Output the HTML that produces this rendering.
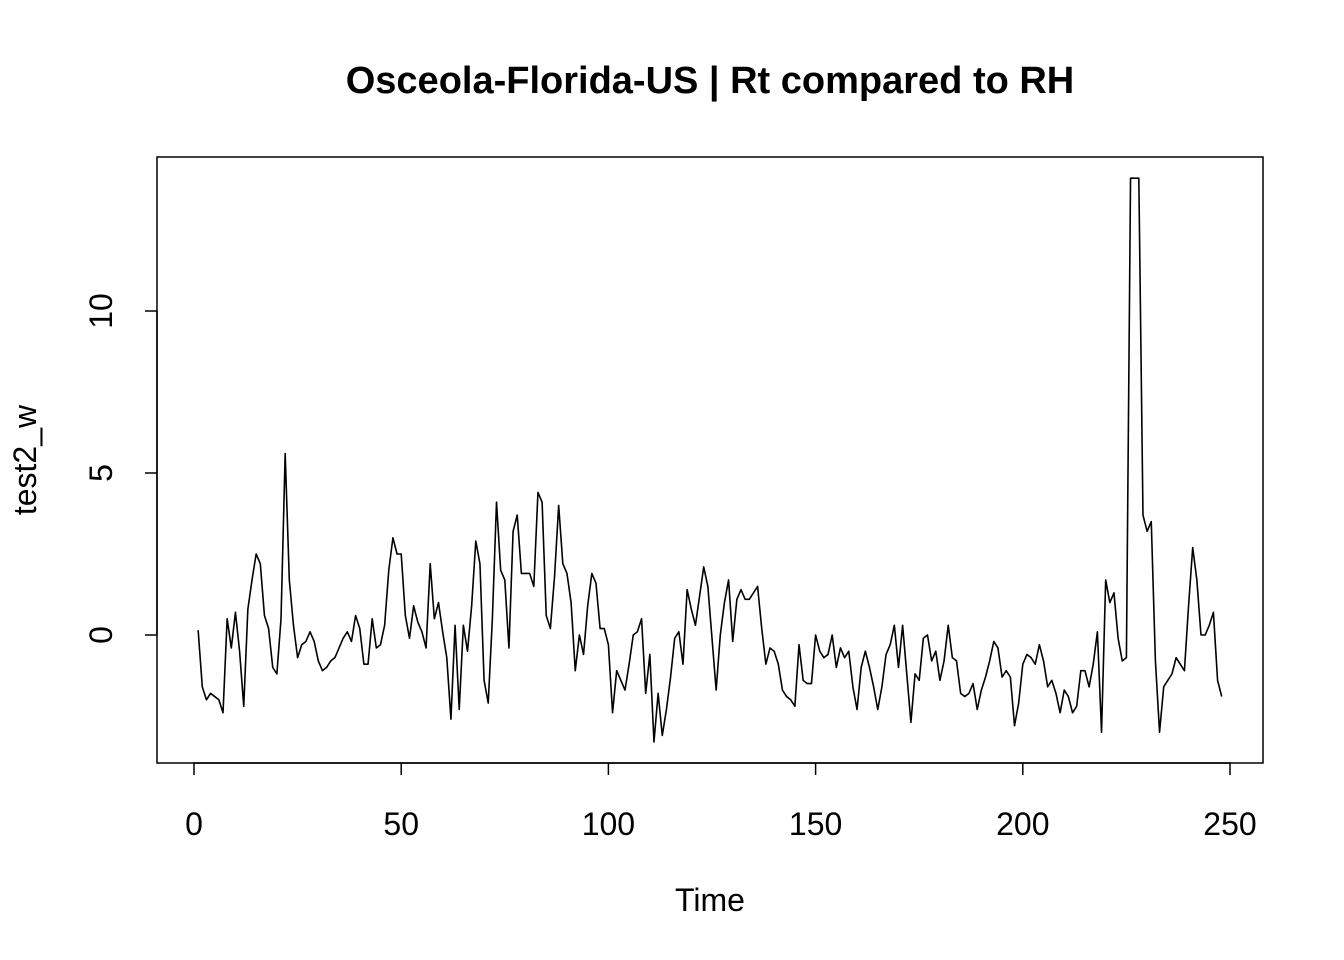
<!DOCTYPE html>
<html><head><meta charset="utf-8"><style>
body{margin:0;background:#fff;}
svg{display:block;font-family:"Liberation Sans",Arial,sans-serif;}
</style></head><body>
<svg id="chart" width="1344" height="960" viewBox="0 0 1344 960">
<rect width="1344" height="960" fill="#fff"/>
<text x="710" y="93" font-size="38" font-weight="bold" text-anchor="middle">Osceola-Florida-US | Rt compared to RH</text>
<rect x="157" y="157" width="1106" height="606" fill="none" stroke="#000" stroke-width="1.5"/>
<g id="xaxis"></g>
<g id="yaxis"></g>
<text x="710" y="911" font-size="32" text-anchor="middle">Time</text>
<text transform="translate(36,460) rotate(-90)" font-size="32" text-anchor="middle">test2_w</text>
<path id="series" fill="none" stroke="#000" stroke-width="1.6" stroke-linejoin="round"/>
</svg>
<script>
const values = [0.15,-1.6,-2.0,-1.8,-1.9,-2.0,-2.4,0.5,-0.4,0.7,-0.5,-2.2,0.8,1.7,2.5,2.2,0.6,0.2,-1.0,-1.2,0.5,5.6,1.7,0.3,-0.7,-0.3,-0.2,0.1,-0.2,-0.8,-1.1,-1.0,-0.8,-0.7,-0.4,-0.1,0.1,-0.2,0.6,0.2,-0.9,-0.9,0.5,-0.4,-0.3,0.3,2.0,3.0,2.5,2.5,0.6,-0.1,0.9,0.4,0.1,-0.4,2.2,0.5,1.0,0.1,-0.7,-2.6,0.3,-2.3,0.3,-0.5,0.9,2.9,2.2,-1.4,-2.1,0.5,4.1,2.0,1.7,-0.4,3.2,3.7,1.9,1.9,1.9,1.5,4.4,4.1,0.6,0.2,1.8,4.0,2.2,1.9,1.0,-1.1,0.0,-0.6,0.9,1.9,1.6,0.2,0.2,-0.3,-2.4,-1.1,-1.4,-1.7,-0.9,0.0,0.1,0.5,-1.8,-0.6,-3.3,-1.8,-3.1,-2.3,-1.3,-0.1,0.1,-0.9,1.4,0.8,0.3,1.2,2.1,1.5,-0.1,-1.7,0.0,1.0,1.7,-0.2,1.1,1.4,1.1,1.1,1.3,1.5,0.2,-0.9,-0.4,-0.5,-0.9,-1.7,-1.9,-2.0,-2.2,-0.3,-1.4,-1.5,-1.5,0.0,-0.5,-0.7,-0.6,0.0,-1.0,-0.4,-0.7,-0.5,-1.6,-2.3,-1.0,-0.5,-1.0,-1.6,-2.3,-1.6,-0.6,-0.3,0.3,-1.0,0.3,-1.2,-2.7,-1.2,-1.4,-0.1,0.0,-0.8,-0.5,-1.4,-0.8,0.3,-0.7,-0.8,-1.8,-1.9,-1.8,-1.5,-2.3,-1.7,-1.3,-0.8,-0.2,-0.4,-1.3,-1.1,-1.3,-2.8,-2.1,-0.9,-0.6,-0.7,-0.9,-0.3,-0.8,-1.6,-1.4,-1.8,-2.4,-1.7,-1.9,-2.4,-2.2,-1.1,-1.1,-1.6,-0.9,0.1,-3.0,1.7,1.0,1.3,-0.1,-0.8,-0.7,14.1,14.1,14.1,3.7,3.2,3.5,-0.8,-3.0,-1.6,-1.4,-1.2,-0.7,-0.9,-1.1,0.9,2.7,1.7,0.0,0.0,0.3,0.7,-1.4,-1.9];
const xTicks = [0,50,100,150,200,250];
const yTicks = [0,5,10];
const NS="http://www.w3.org/2000/svg";
function xs(t){return 194+(t)*(1230-194)/250;}
function ys(v){return 635-v*32.4;}
let d="";
values.forEach((v,i)=>{d+=(i?"L":"M")+xs(i+1).toFixed(2)+","+ys(v).toFixed(2);});
document.getElementById("series").setAttribute("d",d);
const xa=document.getElementById("xaxis");
const ln=document.createElementNS(NS,"line");
ln.setAttribute("x1",xs(xTicks[0]));ln.setAttribute("x2",xs(xTicks[xTicks.length-1]));
ln.setAttribute("y1",763);ln.setAttribute("y2",763);ln.setAttribute("stroke","#000");ln.setAttribute("stroke-width","1.5");


xa.appendChild(ln);
xTicks.forEach(t=>{
  const l=document.createElementNS(NS,"line");
  l.setAttribute("x1",xs(t));l.setAttribute("x2",xs(t));l.setAttribute("y1",763);l.setAttribute("y2",775);
  l.setAttribute("stroke","#000");l.setAttribute("stroke-width","1.5");
  
  
  xa.appendChild(l);
  const tx=document.createElementNS(NS,"text");
  tx.setAttribute("x",xs(t));tx.setAttribute("y",835);tx.setAttribute("font-size","32");tx.setAttribute("text-anchor","middle");
  tx.textContent=t;
  
  
  xa.appendChild(tx);
});
const ya=document.getElementById("yaxis");
const yl=document.createElementNS(NS,"line");
yl.setAttribute("x1",157);yl.setAttribute("x2",157);yl.setAttribute("y1",ys(yTicks[0]));yl.setAttribute("y2",ys(yTicks[yTicks.length-1]));
yl.setAttribute("stroke","#000");yl.setAttribute("stroke-width","1.5");


ya.appendChild(yl);
yTicks.forEach(v=>{
  const l=document.createElementNS(NS,"line");
  l.setAttribute("x1",145);l.setAttribute("x2",157);l.setAttribute("y1",ys(v));l.setAttribute("y2",ys(v));
  l.setAttribute("stroke","#000");l.setAttribute("stroke-width","1.5");
  
  
  ya.appendChild(l);
  const tx=document.createElementNS(NS,"text");
  tx.setAttribute("transform","translate(112,"+ys(v)+") rotate(-90)");
  tx.setAttribute("font-size","32");tx.setAttribute("text-anchor","middle");
  tx.textContent=v;
  
  
  ya.appendChild(tx);
});
</script>
</body></html>
